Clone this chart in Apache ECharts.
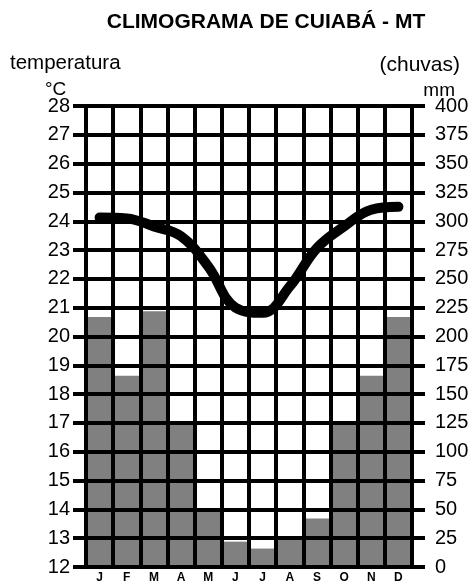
<!DOCTYPE html>
<html>
<head>
<meta charset="utf-8">
<script src="https://cdn.jsdelivr.net/npm/echarts@6/dist/echarts.min.js"></script>
<style>
  html, body { margin: 0; padding: 0; background: #fff; }
  #chart { width: 474px; height: 584px; }
</style>
</head>
<body>
<div id="chart"></div>
<script>
  // meses
  const months = ['J', 'F', 'M', 'A', 'M', 'J', 'J', 'A', 'S', 'O', 'N', 'D']
  // chuvas (mm)
  const rain = [217, 166, 222, 126, 48, 22, 16, 24, 42, 124, 166, 217]
  // temperatura (°C)
  const temp = [24.13, 24.1, 23.82, 23.48, 22.43, 21.0, 20.82, 21.74, 23.07, 23.82, 24.4, 24.5]

  const font = '"Liberation Sans", Arial, sans-serif'
  const black = '#000'

  const chart = echarts.init(document.getElementById('chart'))

  chart.setOption({
    animation: false,
    backgroundColor: '#fff',
    graphic: [
      {
        type: 'text',
        x: 266,
        y: 22,
        style: {
          text: 'CLIMOGRAMA DE CUIABÁ - MT',
          font: 'bold 21px ' + font,
          fill: black,
          textAlign: 'center',
          textVerticalAlign: 'middle',
        },
      },
      { type: 'text', left: 10, top: 53, style: { text: 'temperatura', font: '20.5px ' + font, fill: black } },
      { type: 'text', left: 45, top: 80, style: { text: '°C', font: '19px ' + font, fill: black } },
      { type: 'text', right: 14, top: 55, style: { text: '(chuvas)', font: '21px ' + font, fill: black } },
      { type: 'text', right: 19, top: 81, style: { text: 'mm', font: '19px ' + font, fill: black } },
    ],
    grid: { left: 86, right: 62, top: 106, bottom: 16 },
    xAxis: {
      type: 'category',
      data: months,
      z: 3,
      axisLine: { show: true, lineStyle: { color: black, width: 4 } },
      axisTick: { show: false },
      splitLine: { show: true, interval: 0, lineStyle: { color: black, width: 4 } },
      axisLabel: {
        interval: 0,
        margin: 5,
        color: black,
        fontFamily: font,
        fontSize: 12,
        fontWeight: 'bold',
      },
    },
    yAxis: [
      {
        type: 'value',
        min: 12,
        max: 28,
        interval: 1,
        z: 3,
        position: 'left',
        axisLine: { show: true, lineStyle: { color: black, width: 4 } },
        axisTick: { show: true, length: 13, lineStyle: { color: black, width: 4 } },
        splitLine: { show: true, lineStyle: { color: black, width: 4 } },
        axisLabel: { margin: 16, color: black, fontFamily: font, fontSize: 20 },
      },
      {
        type: 'value',
        min: 0,
        max: 400,
        interval: 25,
        z: 3,
        position: 'right',
        axisLine: { show: true, lineStyle: { color: black, width: 4 } },
        axisTick: { show: true, length: 13, lineStyle: { color: black, width: 4 } },
        splitLine: { show: false },
        axisLabel: { margin: 23, color: black, fontFamily: font, fontSize: 20 },
      },
    ],
    series: [
      {
        name: 'chuvas',
        type: 'bar',
        yAxisIndex: 1,
        data: rain,
        z: 1,
        barCategoryGap: '0%',
        itemStyle: { color: '#808080' },
      },
      {
        name: 'temperatura',
        type: 'line',
        yAxisIndex: 0,
        data: temp,
        z: 10,
        smooth: 0.4,
        symbol: 'none',
        lineStyle: { color: black, width: 10, cap: 'round', join: 'round' },
      },
    ],
  })
</script>
</body>
</html>
